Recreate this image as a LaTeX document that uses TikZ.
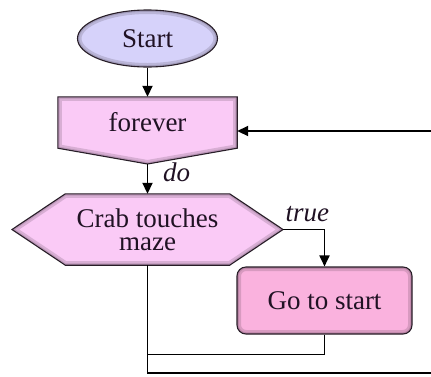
\documentclass[tikz,border=0pt]{standalone}
\usepackage{fontspec}
\setmainfont{Liberation Serif}
\usetikzlibrary{arrows.meta,calc,shapes.geometric,backgrounds}

\definecolor{startfill}{RGB}{214,210,250}
\definecolor{loopfill}{RGB}{250,202,246}
\definecolor{actfill}{RGB}{250,178,222}
\definecolor{edgecol}{RGB}{40,30,40}
\definecolor{inkcol}{RGB}{32,18,36}

% outlines of the loop head and of the test
\newcommand\foreverpath{(forever.north west) -- (forever.north east) -- (forever.south east) -- (fortip) -- (forever.south west) -- cycle}
\newcommand\hexpath{(hexL) -- (hex.north west) -- (hex.north east) -- (hexR) -- (hex.south east) -- (hex.south west) -- cycle}

\begin{document}
\begin{tikzpicture}[x=1pt,y=-1pt,
  txt/.style={inner sep=0pt, text=inkcol, font=\fontsize{27}{23}\selectfont},
  lbl/.style={inner sep=0pt, text=inkcol, font=\fontsize{27}{27}\selectfont\itshape},
  outline/.style={draw=edgecol, line width=1.1pt},
  flow/.style={line width=1.8pt, -{Triangle[length=11pt,width=10pt]}},
  wire/.style={line width=1.8pt},
  shadeband/.style={line width=#1, edgecol, opacity=.16}]
\useasboundingbox (0,0) rectangle (431,376);

% terminal
\node[txt, ellipse, minimum width=140pt, minimum height=57pt, fill=startfill, outline,
  path picture={
    \draw[shadeband=8pt] (path picture bounding box.center) ellipse [x radius=70pt, y radius=28.5pt];
    \draw[shadeband=3.5pt] (path picture bounding box.center) ellipse [x radius=70pt, y radius=28.5pt];
  }] (start) at (147.5,38.5) {Start};

% loop head
\node[txt, minimum width=179pt, minimum height=51pt] (forever) at (147.5,122.5) {forever};
\coordinate (fortip) at (147.5,164);

% test
\node[txt, align=center, minimum width=164pt, minimum height=71pt] (hex) at (147.5,229.5) {Crab touches\\maze};
\coordinate (hexL) at (12,229.5);
\coordinate (hexR) at (283,229.5);

% action
\node[txt, rounded corners=9pt, minimum width=175pt, minimum height=67pt, fill=actfill, outline,
  path picture={
    \draw[shadeband=8pt, rounded corners=9pt] (path picture bounding box.north west) rectangle (path picture bounding box.south east);
    \draw[shadeband=3.5pt, rounded corners=9pt] (path picture bounding box.north west) rectangle (path picture bounding box.south east);
  }] (go) at (324.5,300.5) {Go to start};

\begin{scope}[on background layer]
  \path[fill=loopfill, path picture={\draw[shadeband=8pt] \foreverpath; \draw[shadeband=3.5pt] \foreverpath;}] \foreverpath;
  \draw[outline, line join=miter] \foreverpath;
  \path[fill=loopfill, path picture={\draw[shadeband=8pt] \hexpath; \draw[shadeband=3.5pt] \hexpath;}] \hexpath;
  \draw[outline, line join=miter] \hexpath;
\end{scope}

% connectors
\draw[flow] (start) -- (forever);
\draw[flow] (fortip) -- (hex.north);
\node[lbl, anchor=base west] (dolbl) at (163,181.5) {do};

\draw[flow] (hexR) -| (go.north);
\node[lbl, anchor=base west] (truelbl) at (285.5,221.5) {true};

\coordinate (join) at (147.5,354.5);
\draw[wire] (go.south) |- (join);

\coordinate (exit) at (431,373);
\draw[wire] (hex.south) |- (exit);

\coordinate (back) at (431,131);
\draw[flow] (back) -- (back -| forever.east);
\end{tikzpicture}
\end{document}
